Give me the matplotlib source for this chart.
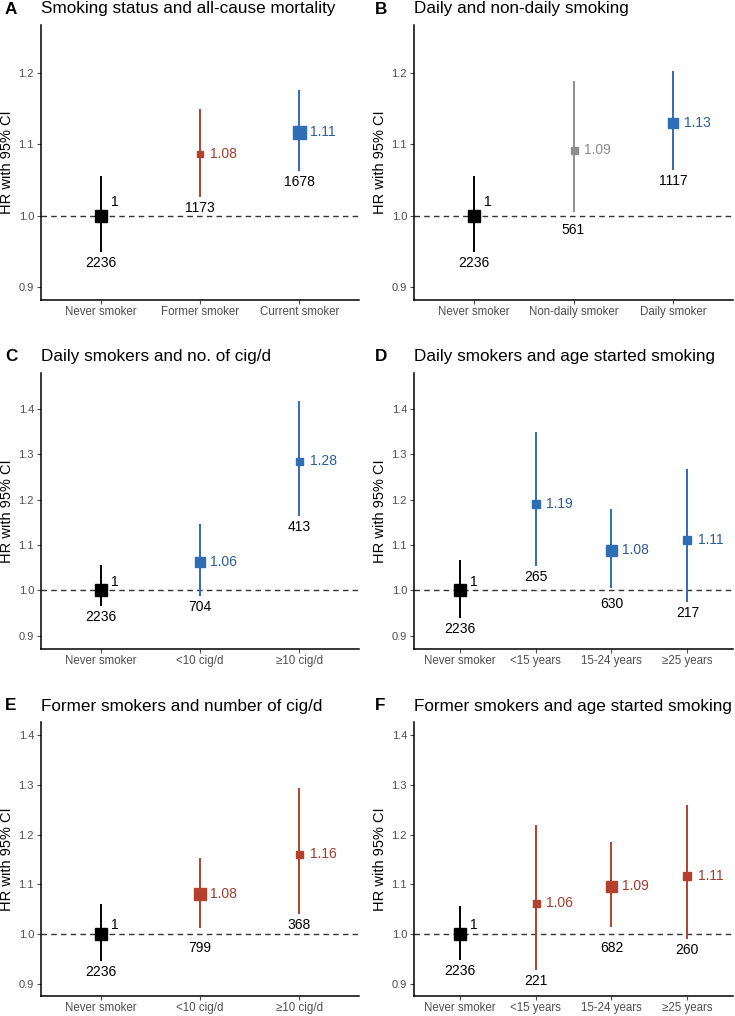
import matplotlib
matplotlib.use("Agg")
import matplotlib.pyplot as plt

plt.rcParams['font.family'] = ['Liberation Sans', 'DejaVu Sans']

# A - smoking status
a_cats = ["Never smoker", "Former smoker", "Current smoker"]
a_hr = [1.000, 1.086, 1.117]
a_lo = [0.949, 1.026, 1.062]
a_hi = [1.055, 1.150, 1.176]
a_n = [2236, 1173, 1678]
a_lab = ["1", "1.08", "1.11"]

# B - daily / non-daily
b_cats = ["Never smoker", "Non-daily smoker", "Daily smoker"]
b_hr = [1.000, 1.092, 1.130]
b_lo = [0.949, 1.005, 1.064]
b_hi = [1.055, 1.189, 1.202]
b_n = [2236, 561, 1117]
b_lab = ["1", "1.09", "1.13"]

# C - daily smokers, cig/d
c_cats = ["Never smoker", "<10 cig/d", "≥10 cig/d"]
c_hr = [1.000, 1.062, 1.286]
c_lo = [0.966, 0.987, 1.165]
c_hi = [1.055, 1.146, 1.418]
c_n = [2236, 704, 413]
c_lab = ["1", "1.06", "1.28"]

# D - daily smokers, age started
d_cats = ["Never smoker", "<15 years", "15-24 years", "≥25 years"]
d_hr = [1.000, 1.191, 1.088, 1.111]
d_lo = [0.939, 1.053, 1.005, 0.975]
d_hi = [1.066, 1.350, 1.179, 1.267]
d_n = [2236, 265, 630, 217]
d_lab = ["1", "1.19", "1.08", "1.11"]

# E - former smokers, cig/d
e_cats = ["Never smoker", "<10 cig/d", "≥10 cig/d"]
e_hr = [1.000, 1.080, 1.161]
e_lo = [0.945, 1.013, 1.041]
e_hi = [1.060, 1.153, 1.294]
e_n = [2236, 799, 368]
e_lab = ["1", "1.08", "1.16"]

# F - former smokers, age started
f_cats = ["Never smoker", "<15 years", "15-24 years", "≥25 years"]
f_hr = [1.000, 1.063, 1.097, 1.116]
f_lo = [0.948, 0.927, 1.015, 0.989]
f_hi = [1.057, 1.220, 1.185, 1.259]
f_n = [2236, 221, 682, 260]
f_lab = ["1", "1.06", "1.09", "1.11"]

# colours
BLACK = "#000000"
RED, RED_TXT = "#B3412E", "#A63A2B"
BLUE, BLUE_TXT = "#2F6DB4", "#2B5C9E"
GREY, GREY_TXT = "#8E8E8E", "#8A8A8A"

W, H = 735, 1016
fig = plt.figure(figsize=(W / 100, H / 100), dpi=100)

# (letter, title, cats, hr, lo, hi, n, labels, colours, text colours, marker px, ylim, yticks, box px)
panels = [
    ("A", "Smoking status and all-cause mortality", a_cats, a_hr, a_lo, a_hi, a_n, a_lab,
     [BLACK, RED, BLUE], [BLACK, RED_TXT, BLUE_TXT], [12, 6, 13],
     (0.882, 1.267), [0.9, 1.0, 1.1, 1.2], (41, 359, 25, 300)),
    ("B", "Daily and non-daily smoking", b_cats, b_hr, b_lo, b_hi, b_n, b_lab,
     [BLACK, GREY, BLUE], [BLACK, GREY_TXT, BLUE_TXT], [12, 7, 10],
     (0.882, 1.267), [0.9, 1.0, 1.1, 1.2], (414, 733, 25, 300)),
    ("C", "Daily smokers and no. of cig/d", c_cats, c_hr, c_lo, c_hi, c_n, c_lab,
     [BLACK, BLUE, BLUE], [BLACK, BLUE_TXT, BLUE_TXT], [12, 10, 7],
     (0.871, 1.479), [0.9, 1.0, 1.1, 1.2, 1.3, 1.4], (41, 359, 373, 649)),
    ("D", "Daily smokers and age started smoking", d_cats, d_hr, d_lo, d_hi, d_n, d_lab,
     [BLACK, BLUE, BLUE, BLUE], [BLACK, BLUE_TXT, BLUE_TXT, BLUE_TXT], [12, 8, 11, 7.5],
     (0.871, 1.479), [0.9, 1.0, 1.1, 1.2, 1.3, 1.4], (414, 733, 373, 649)),
    ("E", "Former smokers and number of cig/d", e_cats, e_hr, e_lo, e_hi, e_n, e_lab,
     [BLACK, RED, RED], [BLACK, RED_TXT, RED_TXT], [12, 12, 7],
     (0.875, 1.427), [0.9, 1.0, 1.1, 1.2, 1.3, 1.4], (41, 359, 722, 996)),
    ("F", "Former smokers and age started smoking", f_cats, f_hr, f_lo, f_hi, f_n, f_lab,
     [BLACK, RED, RED, RED], [BLACK, RED_TXT, RED_TXT, RED_TXT], [12, 7, 11, 8],
     (0.875, 1.427), [0.9, 1.0, 1.1, 1.2, 1.3, 1.4], (414, 733, 722, 996)),
]

for (letter, title, cats, hr, lo, hi, n, lab, cols, tcols, msz, ylim, yticks, box) in panels:
    x0, x1, y0, y1 = box
    ax = fig.add_axes([x0 / W, 1 - y1 / H, (x1 - x0) / W, (y1 - y0) / H])
    xs = list(range(1, len(cats) + 1))
    ppu = (y1 - y0) / (ylim[1] - ylim[0])  # pixels per HR unit

    ax.axhline(1.0, color="#333333", lw=1.0, ls=(0, (4, 3)), zorder=1)
    for i, x in enumerate(xs):
        ax.plot([x, x], [lo[i], hi[i]], color=cols[i], lw=1.4, zorder=2, solid_capstyle="butt")
        ax.plot(x, hr[i], marker="s", ms=msz[i] * 0.72, color=cols[i], mec=cols[i], zorder=3)
        dy = 0.019 if lab[i] == "1" else 0.0
        ax.annotate(lab[i], (x, hr[i] + dy), xytext=(7.5, 0), textcoords="offset points",
                    ha="left", va="center", fontsize=10, color=tcols[i])
        # count label under the CI, pushed below the reference line if it would sit on it
        gap_px = 4.0
        above = (lo[i] - 1.0) * ppu
        if -10 < above < 16:
            gap_px = max(gap_px, above + 7)
        ax.annotate(str(n[i]), (x, lo[i]), xytext=(0, -gap_px * 0.72), textcoords="offset points",
                    ha="center", va="top", fontsize=10, color=BLACK)

    ax.set_xlim(0.4, len(cats) + 0.6)
    ax.set_ylim(*ylim)
    ax.set_xticks(xs)
    ax.set_xticklabels(cats)
    ax.set_yticks(yticks)
    ax.set_yticklabels([f"{t:.1f}" for t in yticks])
    ax.tick_params(axis="x", labelsize=8.3, colors="#4D4D4D", length=3, width=0.8, pad=1.5)
    ax.tick_params(axis="y", labelsize=8, colors="#4D4D4D", length=3, width=0.8, pad=2)
    for s in ["top", "right"]:
        ax.spines[s].set_visible(False)
    for s in ["left", "bottom"]:
        ax.spines[s].set_linewidth(1.1)
        ax.spines[s].set_color("black")
    ax.set_ylabel("HR with 95% CI", fontsize=10.5, labelpad=3)

    # panel letter and title
    letter_x = 5 if x0 < 100 else 375
    fig.text(letter_x / W, 1 - (y0 - 11.5) / H, letter, fontsize=12.3, fontweight="bold",
             ha="left", va="baseline")
    fig.text(x0 / W, 1 - (y0 - 11.5) / H, title, fontsize=12.3, ha="left", va="baseline")

fig.savefig("out.png", dpi=100)
